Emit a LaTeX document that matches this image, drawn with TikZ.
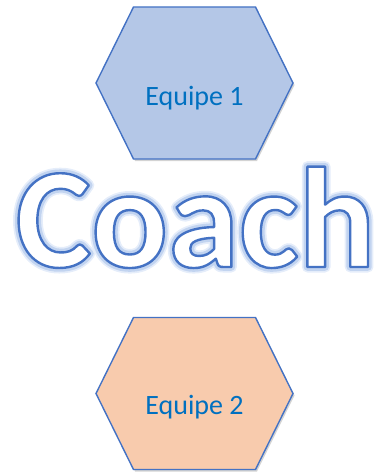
\documentclass[tikz,border=0pt]{standalone}
\usepackage{fontspec}
\setmainfont{Carlito}
\usetikzlibrary{shadows}
\definecolor{hexline}{HTML}{4472C4}
\definecolor{teamone}{HTML}{B4C7E7}
\definecolor{teamtwo}{HTML}{F8CBAD}
\definecolor{teamtext}{HTML}{0070C0}
% text in pdf render mode #1 (1 stroke, 2 fill and stroke), line width #2, RGB stroke colour #3
\newcommand{\strokedtext}[4]{%
  \special{pdf:literal direct #1 Tr #2 w 1 j #3 RG}#4\special{pdf:literal direct 0 Tr}}
\tikzset{
  hexagon/.style={draw=hexline, line width=1.4pt,
    drop shadow={shadow xshift=1.5pt, shadow yshift=-2pt, opacity=0.35}},
  teamlabel/.style={anchor=base, text=teamtext, font=\fontsize{28}{28}\selectfont},
  coachtext/.style={anchor=base, inner sep=0pt, font=\fontsize{143}{143}\selectfont\bfseries},
}
% hexagon with half widths 61 (flat sides) and 98.5 (tips), half height 76
\newcommand{\teamhex}[3]{%
  \coordinate (#1) at #2;
  \draw[hexagon, fill=#3]
    ($(#1)+(-61,-76)$) -- ($(#1)+(61,-76)$) -- ($(#1)+(98.5,0)$)
    -- ($(#1)+(61,76)$) -- ($(#1)+(-61,76)$) -- ($(#1)+(-98.5,0)$) -- cycle;
}
\usetikzlibrary{calc}

\begin{document}
\begin{tikzpicture}[x=1pt, y=-1pt]
    \useasboundingbox (0,0) rectangle (383,476);
    % team hexagons
    \teamhex{hex_one}{(194.5,83)}{teamone}
    \teamhex{hex_two}{(194.5,393.5)}{teamtwo}
    % labels
    \node[teamlabel] (label_one) at (194.5,106) {Equipe 1};
    \node[teamlabel] (label_two) at (194.5,414) {Equipe 2};
    % coach word: soft glow, then white letters with blue outline
    \node[coachtext] (coach_glow) at (195.5,267)
        {\strokedtext{1}{11}{0.9 0.93 0.98}{Coach}};
    \node[coachtext] (coach_halo) at (coach_glow.base)
        {\strokedtext{1}{7.5}{0.76 0.83 0.94}{Coach}};
    \node[coachtext, text=white] (coach) at (coach_glow.base)
        {\strokedtext{2}{2.4}{0.267 0.447 0.769}{Coach}};
\end{tikzpicture}
\end{document}
